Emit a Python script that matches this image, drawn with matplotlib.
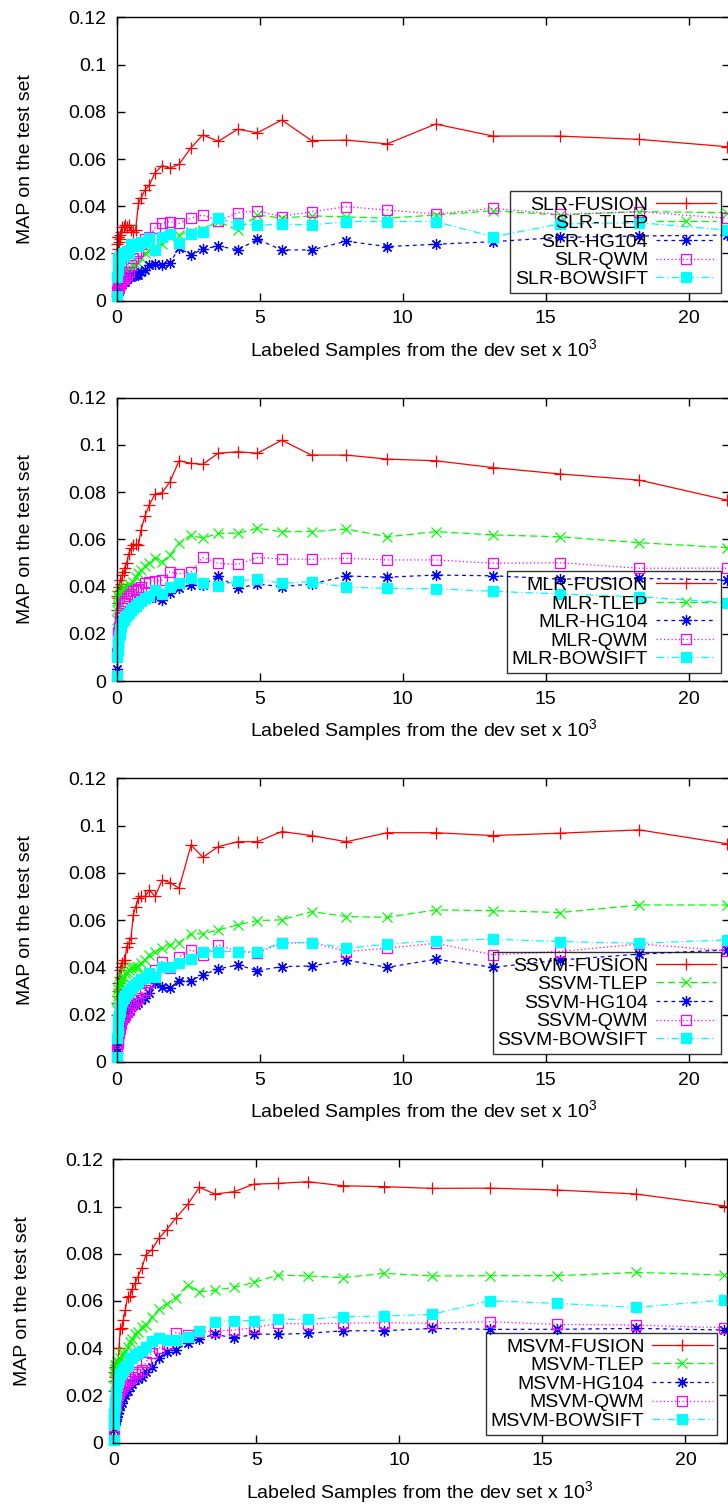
import matplotlib
matplotlib.use("Agg")
import matplotlib.pyplot as plt
from matplotlib.ticker import FixedLocator, FuncFormatter

plt.rcParams['font.family'] = ['Liberation Sans', 'DejaVu Sans']
plt.rcParams['mathtext.fontset'] = 'custom'
plt.rcParams['mathtext.rm'] = 'Liberation Sans'
plt.rcParams['mathtext.default'] = 'regular'

# ---------------- data (x in thousands of labeled samples) ----------------
X_SAMPLES = [0.01, 0.02, 0.03, 0.045, 0.06, 0.08, 0.10, 0.13, 0.16, 0.20,
             0.24, 0.29, 0.35, 0.42, 0.50, 0.58, 0.66, 0.76, 0.85, 0.99,
             1.14, 1.34, 1.59, 1.86, 2.18, 2.60, 3.01, 3.55, 4.23, 4.92,
             5.77, 6.81, 8.03, 9.46, 11.15, 13.16, 15.5, 18.27, 21.35]

SLR_FUSION = [0.020, 0.024, 0.027, 0.022, 0.027, 0.025, 0.028, 0.026, 0.029, 0.031,
              0.031, 0.032, 0.031, 0.032, 0.030, 0.029, 0.030, 0.0412, 0.0434, 0.0469,
              0.0490, 0.0542, 0.0572, 0.0561, 0.0578, 0.0648, 0.0702, 0.0675, 0.0726, 0.0711,
              0.0765, 0.0678, 0.0680, 0.0664, 0.0748, 0.0697, 0.0697, 0.0683, 0.0652]
SLR_TLEP = [0.004, 0.005, 0.006, 0.007, 0.007, 0.008, 0.009, 0.009, 0.010, 0.011,
            0.011, 0.012, 0.013, 0.013, 0.014, 0.015, 0.015, 0.016, 0.018, 0.020,
            0.021, 0.023, 0.024, 0.027, 0.028, 0.029, 0.030, 0.0335, 0.0299, 0.0363,
            0.0350, 0.0359, 0.0355, 0.0349, 0.0363, 0.0381, 0.0363, 0.0377, 0.0373]
SLR_HG104 = [0.002, 0.003, 0.004, 0.003, 0.005, 0.004, 0.006, 0.005, 0.007, 0.007,
             0.008, 0.008, 0.009, 0.010, 0.010, 0.011, 0.011, 0.011, 0.012, 0.013,
             0.015, 0.0155, 0.0152, 0.0161, 0.0222, 0.0194, 0.0218, 0.0232, 0.0215, 0.0260,
             0.0215, 0.0215, 0.0252, 0.0229, 0.0239, 0.0250, 0.0268, 0.0274, 0.0278]
SLR_QWM = [0.002, 0.004, 0.006, 0.005, 0.007, 0.006, 0.008, 0.007, 0.008, 0.009,
           0.009, 0.010, 0.011, 0.012, 0.015, 0.018, 0.020, 0.021, 0.024, 0.026,
           0.027, 0.0309, 0.0328, 0.0335, 0.0328, 0.0349, 0.0363, 0.0339, 0.0373, 0.0380,
           0.0356, 0.0377, 0.0398, 0.0384, 0.0367, 0.0391, 0.0366, 0.0377, 0.0349]
SLR_BOWSIFT = [0.002, 0.010, 0.013, 0.016, 0.018, 0.017, 0.019, 0.018, 0.019, 0.020,
               0.019, 0.020, 0.021, 0.020, 0.024, 0.024, 0.024, 0.023, 0.025, 0.025,
               0.0264, 0.0215, 0.0271, 0.0281, 0.0246, 0.0281, 0.0290, 0.0349, 0.0325, 0.0319,
               0.0325, 0.0320, 0.0335, 0.0335, 0.0335, 0.0271, 0.0325, 0.0330, 0.0299]

MLR_FUSION = [0.030, 0.036, 0.033, 0.038, 0.035, 0.040, 0.037, 0.043, 0.041, 0.045,
              0.046, 0.048, 0.050, 0.054, 0.0562, 0.0576, 0.058, 0.0576, 0.0640, 0.0700,
              0.0746, 0.0792, 0.0798, 0.0844, 0.0933, 0.0922, 0.0918, 0.0965, 0.0971, 0.0965,
              0.1020, 0.0957, 0.0957, 0.0940, 0.0933, 0.0904, 0.0877, 0.0851, 0.0766]
MLR_TLEP = [0.026, 0.030, 0.032, 0.034, 0.036, 0.035, 0.037, 0.038, 0.037, 0.039,
            0.040, 0.039, 0.040, 0.041, 0.040, 0.042, 0.044, 0.0456, 0.047, 0.0489,
            0.0499, 0.0523, 0.0506, 0.0534, 0.0583, 0.0619, 0.0605, 0.0626, 0.0626, 0.0647,
            0.0633, 0.0633, 0.0644, 0.0611, 0.0633, 0.0619, 0.0611, 0.0586, 0.0565]
MLR_HG104 = [0.005, 0.010, 0.013, 0.015, 0.017, 0.019, 0.021, 0.022, 0.024, 0.026,
             0.027, 0.028, 0.029, 0.030, 0.031, 0.032, 0.033, 0.034, 0.034, 0.035,
             0.0351, 0.0357, 0.0343, 0.0372, 0.0393, 0.0407, 0.0405, 0.0445, 0.0393, 0.0411,
             0.0400, 0.0411, 0.0445, 0.0440, 0.0449, 0.0446, 0.0432, 0.0435, 0.0428]
MLR_QWM = [0.002, 0.012, 0.016, 0.019, 0.021, 0.023, 0.025, 0.027, 0.029, 0.031,
           0.033, 0.034, 0.035, 0.036, 0.037, 0.038, 0.0386, 0.039, 0.040, 0.0414,
           0.0421, 0.0425, 0.0428, 0.0463, 0.0453, 0.0463, 0.0524, 0.0499, 0.0494, 0.0523,
           0.0517, 0.0516, 0.0520, 0.0513, 0.0513, 0.0499, 0.0501, 0.0478, 0.0478]
MLR_BOWSIFT = [0.002, 0.010, 0.013, 0.015, 0.017, 0.019, 0.020, 0.022, 0.023, 0.025,
               0.026, 0.027, 0.028, 0.029, 0.030, 0.031, 0.032, 0.033, 0.034, 0.035,
               0.036, 0.0386, 0.0370, 0.0400, 0.0414, 0.0435, 0.0414, 0.0404, 0.0424, 0.0432,
               0.0414, 0.0421, 0.0397, 0.0393, 0.0391, 0.0380, 0.0369, 0.0357, 0.0332]

SSVM_FUSION = [0.020, 0.025, 0.028, 0.030, 0.0333, 0.031, 0.0389, 0.036, 0.040, 0.042,
               0.043, 0.0431, 0.0488, 0.0502, 0.0523, 0.0622, 0.0657, 0.0693, 0.0700, 0.0700,
               0.0728, 0.0700, 0.0770, 0.0759, 0.0735, 0.0918, 0.0866, 0.0911, 0.0932, 0.0932,
               0.0975, 0.0958, 0.0932, 0.0970, 0.0970, 0.0958, 0.0968, 0.0982, 0.0923]
SSVM_TLEP = [0.022, 0.026, 0.028, 0.029, 0.031, 0.032, 0.033, 0.034, 0.035, 0.036,
             0.036, 0.0375, 0.038, 0.039, 0.0396, 0.040, 0.040, 0.0403, 0.042, 0.043,
             0.0453, 0.0467, 0.0481, 0.0495, 0.0505, 0.0542, 0.0542, 0.0558, 0.0580, 0.0598,
             0.0601, 0.0636, 0.0615, 0.0612, 0.0643, 0.0640, 0.0632, 0.0664, 0.0664]
SSVM_HG104 = [0.004, 0.006, 0.008, 0.010, 0.012, 0.013, 0.015, 0.016, 0.017, 0.018,
              0.019, 0.020, 0.021, 0.022, 0.023, 0.024, 0.024, 0.025, 0.026, 0.027,
              0.029, 0.0333, 0.0318, 0.0312, 0.0344, 0.0344, 0.0368, 0.0393, 0.0410, 0.0386,
              0.0403, 0.0406, 0.0431, 0.0400, 0.0434, 0.0400, 0.0431, 0.0456, 0.0474]
SSVM_QWM = [0.002, 0.006, 0.008, 0.009, 0.011, 0.012, 0.014, 0.015, 0.016, 0.018,
            0.019, 0.020, 0.021, 0.022, 0.024, 0.025, 0.026, 0.027, 0.029, 0.0304,
            0.034, 0.0389, 0.0424, 0.0396, 0.0445, 0.0474, 0.0453, 0.0495, 0.0467, 0.0462,
            0.0502, 0.0505, 0.0467, 0.0481, 0.0502, 0.0453, 0.0467, 0.0499, 0.0470]
SSVM_BOWSIFT = [0.002, 0.010, 0.013, 0.016, 0.018, 0.020, 0.021, 0.023, 0.024, 0.026,
                0.027, 0.028, 0.029, 0.030, 0.031, 0.032, 0.033, 0.034, 0.035, 0.0354,
                0.0375, 0.0361, 0.0403, 0.0403, 0.0417, 0.0436, 0.0467, 0.0467, 0.0467, 0.0467,
                0.0505, 0.0505, 0.0481, 0.0498, 0.0513, 0.0519, 0.0509, 0.0502, 0.0516]

MSVM_FUSION = [0.022, 0.026, 0.030, 0.028, 0.032, 0.030, 0.033, 0.032, 0.0336, 0.040,
               0.048, 0.0484, 0.052, 0.0562, 0.0618, 0.062, 0.065, 0.0675, 0.070, 0.0738,
               0.0795, 0.0816, 0.0865, 0.0901, 0.0950, 0.1009, 0.1081, 0.1053, 0.1063, 0.1095,
               0.1098, 0.1105, 0.1088, 0.1084, 0.1077, 0.1078, 0.1070, 0.1053, 0.1003]
MSVM_TLEP = [0.024, 0.028, 0.030, 0.031, 0.033, 0.032, 0.033, 0.034, 0.032, 0.034,
             0.036, 0.037, 0.038, 0.039, 0.0406, 0.0428, 0.044, 0.046, 0.0470, 0.0491,
             0.050, 0.0531, 0.0565, 0.0587, 0.0614, 0.0668, 0.0639, 0.0646, 0.0658, 0.0679,
             0.0710, 0.0706, 0.0699, 0.0717, 0.0706, 0.0707, 0.0707, 0.0721, 0.0710]
MSVM_HG104 = [0.002, 0.006, 0.008, 0.0085, 0.009, 0.009, 0.010, 0.011, 0.0124, 0.014,
              0.016, 0.017, 0.0188, 0.020, 0.022, 0.0237, 0.025, 0.0266, 0.027, 0.0280,
              0.0301, 0.0322, 0.0357, 0.0385, 0.0393, 0.0421, 0.0439, 0.0460, 0.0442, 0.0460,
              0.0459, 0.0463, 0.0474, 0.0474, 0.0484, 0.0480, 0.0480, 0.0484, 0.0477]
MSVM_QWM = [0.003, 0.010, 0.012, 0.014, 0.015, 0.016, 0.017, 0.018, 0.020, 0.021,
            0.0223, 0.023, 0.024, 0.025, 0.026, 0.027, 0.028, 0.029, 0.030, 0.0308,
            0.034, 0.0381, 0.040, 0.0418, 0.0466, 0.0456, 0.0470, 0.0473, 0.0477, 0.0487,
            0.0505, 0.0503, 0.0506, 0.0508, 0.0506, 0.0512, 0.0501, 0.0498, 0.0487]
MSVM_BOWSIFT = [0.001, 0.008, 0.012, 0.015, 0.018, 0.020, 0.022, 0.024, 0.026, 0.027,
                0.029, 0.030, 0.031, 0.0322, 0.033, 0.0357, 0.036, 0.037, 0.0378, 0.039,
                0.0406, 0.0430, 0.0442, 0.0435, 0.0435, 0.0446, 0.0473, 0.0512, 0.0517, 0.0517,
                0.0522, 0.0522, 0.0534, 0.0536, 0.0544, 0.0601, 0.0590, 0.0573, 0.0604]

CLASSIFIERS = ["SLR", "MLR", "SSVM", "MSVM"]
FEATURES = ["FUSION", "TLEP", "HG104", "QWM", "BOWSIFT"]
SERIES = {
    "SLR": [SLR_FUSION, SLR_TLEP, SLR_HG104, SLR_QWM, SLR_BOWSIFT],
    "MLR": [MLR_FUSION, MLR_TLEP, MLR_HG104, MLR_QWM, MLR_BOWSIFT],
    "SSVM": [SSVM_FUSION, SSVM_TLEP, SSVM_HG104, SSVM_QWM, SSVM_BOWSIFT],
    "MSVM": [MSVM_FUSION, MSVM_TLEP, MSVM_HG104, MSVM_QWM, MSVM_BOWSIFT],
}
X_TICKS = [0, 5, 10, 15, 20]
Y_TICKS = [0, 0.02, 0.04, 0.06, 0.08, 0.1, 0.12]

# ---------------- styles ----------------
STYLES = [
    dict(color='#ff0000', linestyle='-', marker='+', markersize=8.5, markerfacecolor='#ff0000'),
    dict(color='#00ff00', linestyle=(0, (6, 3)), marker='x', markersize=7, markerfacecolor='#00ff00'),
    dict(color='#0000ff', linestyle=(0, (3, 3)), marker=(8, 2, 0), markersize=8, markerfacecolor='#0000ff'),
    dict(color='#ff00ff', linestyle=(0, (1, 2)), marker='s', markersize=6.5, markerfacecolor='none'),
    dict(color='#00ffff', linestyle=(0, (6, 2.5, 1, 2.5)), marker='s', markersize=7, markerfacecolor='#00ffff'),
]

W, H = 728, 1506
fig = plt.figure(figsize=(W / 100, H / 100), dpi=100)

panel_px = [(116.7, 17.3), (116.7, 397.7), (116.7, 778.4), (113.3, 1159.3)]
aw, ah = 613.3, 283.4

for (cls, (lx, ty)) in zip(CLASSIFIERS, panel_px):
    ax = fig.add_axes([lx / W, 1 - (ty + ah) / H, aw / W, ah / H])
    for feat, ys, st in zip(FEATURES, SERIES[cls], STYLES):
        ax.plot(X_SAMPLES, ys, label=f"{cls}-{feat}", linewidth=0.9,
                markeredgewidth=0.9, clip_on=False, **st)
    ax.set_xlim(0, 21.44)
    ax.set_ylim(0, 0.12)
    ax.xaxis.set_major_locator(FixedLocator(X_TICKS))
    ax.yaxis.set_major_locator(FixedLocator(Y_TICKS))
    ax.yaxis.set_major_formatter(FuncFormatter(lambda v, p: f"{v:g}"))
    ax.xaxis.set_major_formatter(FuncFormatter(lambda v, p: f"{v:g}"))
    ax.tick_params(axis='both', direction='in', length=6, width=1.0,
                   top=True, right=True, labelsize=14)
    ax.tick_params(axis='x', pad=7)
    ax.tick_params(axis='y', pad=7.5)
    for s in ax.spines.values():
        s.set_linewidth(1.0)
    ax.set_ylabel("MAP on the test set", fontsize=14)
    ax.yaxis.label.set_va('center')
    ax.yaxis.set_label_coords(-0.148, 0.5)
    ax.set_xlabel("Labeled Samples from the dev set x 10$^3$", fontsize=14)
    ax.xaxis.label.set_va('center')
    ax.xaxis.set_label_coords(0.5, -0.173)
    leg = ax.legend(loc='lower right', bbox_to_anchor=(0.985, 0.028),
                    borderaxespad=0, markerfirst=False, fancybox=False,
                    edgecolor='black', facecolor='none', fontsize=14,
                    labelspacing=0.05, borderpad=0.25, handlelength=3.1,
                    handletextpad=0.4, numpoints=1)
    leg.get_frame().set_linewidth(1.0)

fig.savefig("out.png", dpi=100)
